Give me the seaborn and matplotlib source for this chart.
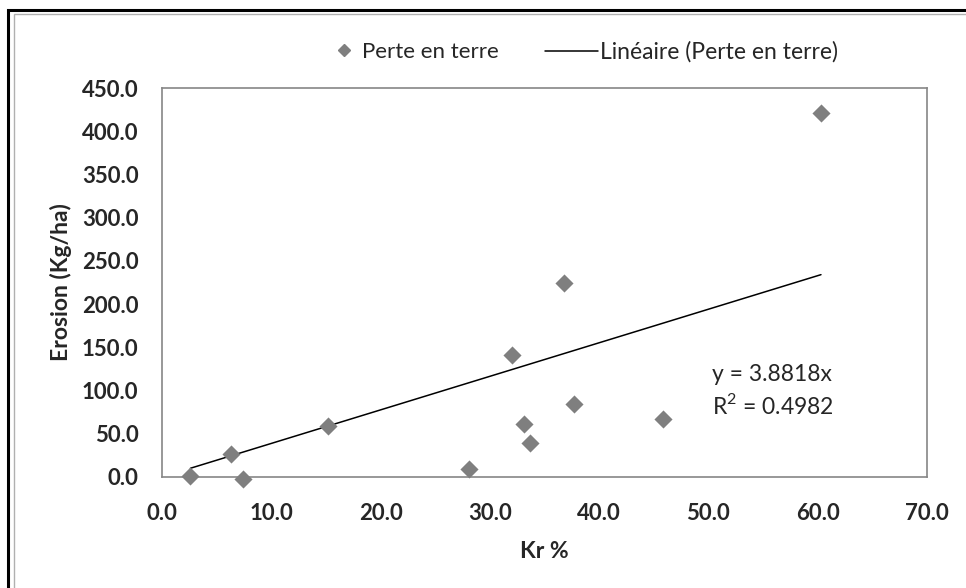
import numpy as np
import pandas as pd
import seaborn as sns
import matplotlib.pyplot as plt
from matplotlib.patches import Rectangle
from matplotlib.lines import Line2D

# Data
kr = [2.6, 6.3, 7.4, 15.2, 28.1, 32.0, 33.1, 33.7, 36.8, 37.7, 45.8, 60.3]
erosion = [1.0, 27.0, -2.0, 59.0, 9.0, 141.0, 61.0, 39.0, 225.0, 85.0, 67.0, 421.0]
slope = 3.8818
r2 = 0.4982
x_ticks = [0, 10, 20, 30, 40, 50, 60, 70]
y_ticks = [0, 50, 100, 150, 200, 250, 300, 350, 400, 450]

df = pd.DataFrame({"Kr %": kr, "Erosion (Kg/ha)": erosion})
trend = pd.DataFrame({"x": [min(kr), max(kr)]})
trend["y"] = slope * trend["x"]

sns.set_style("white")
plt.rcParams['font.family'] = ['Lato', 'DejaVu Sans']
plt.rcParams['mathtext.fontset'] = 'custom'
plt.rcParams['mathtext.rm'] = 'Lato'

fig = plt.figure(figsize=(9.66, 5.88), dpi=100)
ax = fig.add_axes([0.1677, 0.1888, 0.7919, 0.6615])

grey = "#7f7f7f"
sns.lineplot(data=trend, x="x", y="y", color="black", linewidth=1.1, ax=ax)
sns.scatterplot(data=df, x="Kr %", y="Erosion (Kg/ha)", marker="D", s=85,
                color=grey, edgecolor=grey, linewidth=0, ax=ax, zorder=3, clip_on=False)

ax.set_xlim(0, 70)
ax.set_ylim(0, 450)
ax.set_xticks(x_ticks)
ax.set_yticks(y_ticks)
ax.set_xticklabels([f"{v:.1f}" for v in x_ticks], fontsize=16, fontweight="bold")
ax.set_yticklabels([f"{v:.1f}" for v in y_ticks], fontsize=16, fontweight="bold")
ax.tick_params(axis="both", direction="out", length=6, width=1, color="#868686")
ax.tick_params(axis="y", pad=11)
ax.tick_params(axis="x", pad=13)
for sp in ax.spines.values():
    sp.set_color("#868686")
    sp.set_linewidth(1.2)
ax.set_xlabel("Kr %", fontsize=16.5, fontweight="bold", labelpad=12)
ax.set_ylabel("Erosion (Kg/ha)", fontsize=16.5, fontweight="bold", labelpad=7)

ax.text(50.3, 118, f"y = {slope}x", fontsize=16.5, va="center", ha="left")
ax.text(50.3, 83, f"R$^\\mathrm{{2}}$ = {r2}", fontsize=16.5, va="center", ha="left")

# legend: two pieces so the marker and the line can have their own handle widths
fig.legend([Line2D([], [], marker="D", color=grey, linestyle="none", markersize=6.5)],
           ["Perte en terre"], loc="center left", bbox_to_anchor=(0.3447, 0.9116),
           frameon=False, fontsize=16, handlelength=1.0, handletextpad=0.3,
           borderpad=0, borderaxespad=0)
fig.legend([Line2D([], [], color="black", linewidth=1.1)],
           ["Linéaire (Perte en terre)"], loc="center left", bbox_to_anchor=(0.5642, 0.9116),
           frameon=False, fontsize=16.5, handlelength=2.3, handletextpad=0.1,
           borderpad=0, borderaxespad=0)

# chart frame (top/left edges visible)
fig.patches.append(Rectangle((8 / 966, -0.1), 1.2, 1 - 10 / 588 + 0.1, transform=fig.transFigure,
                             fill=False, edgecolor="black", linewidth=2.2))
fig.patches.append(Rectangle((14 / 966, -0.1), 1.2, 1 - 14 / 588 + 0.1, transform=fig.transFigure,
                             fill=False, edgecolor="#b0b0b0", linewidth=1))

fig.savefig("out.png", dpi=100)
